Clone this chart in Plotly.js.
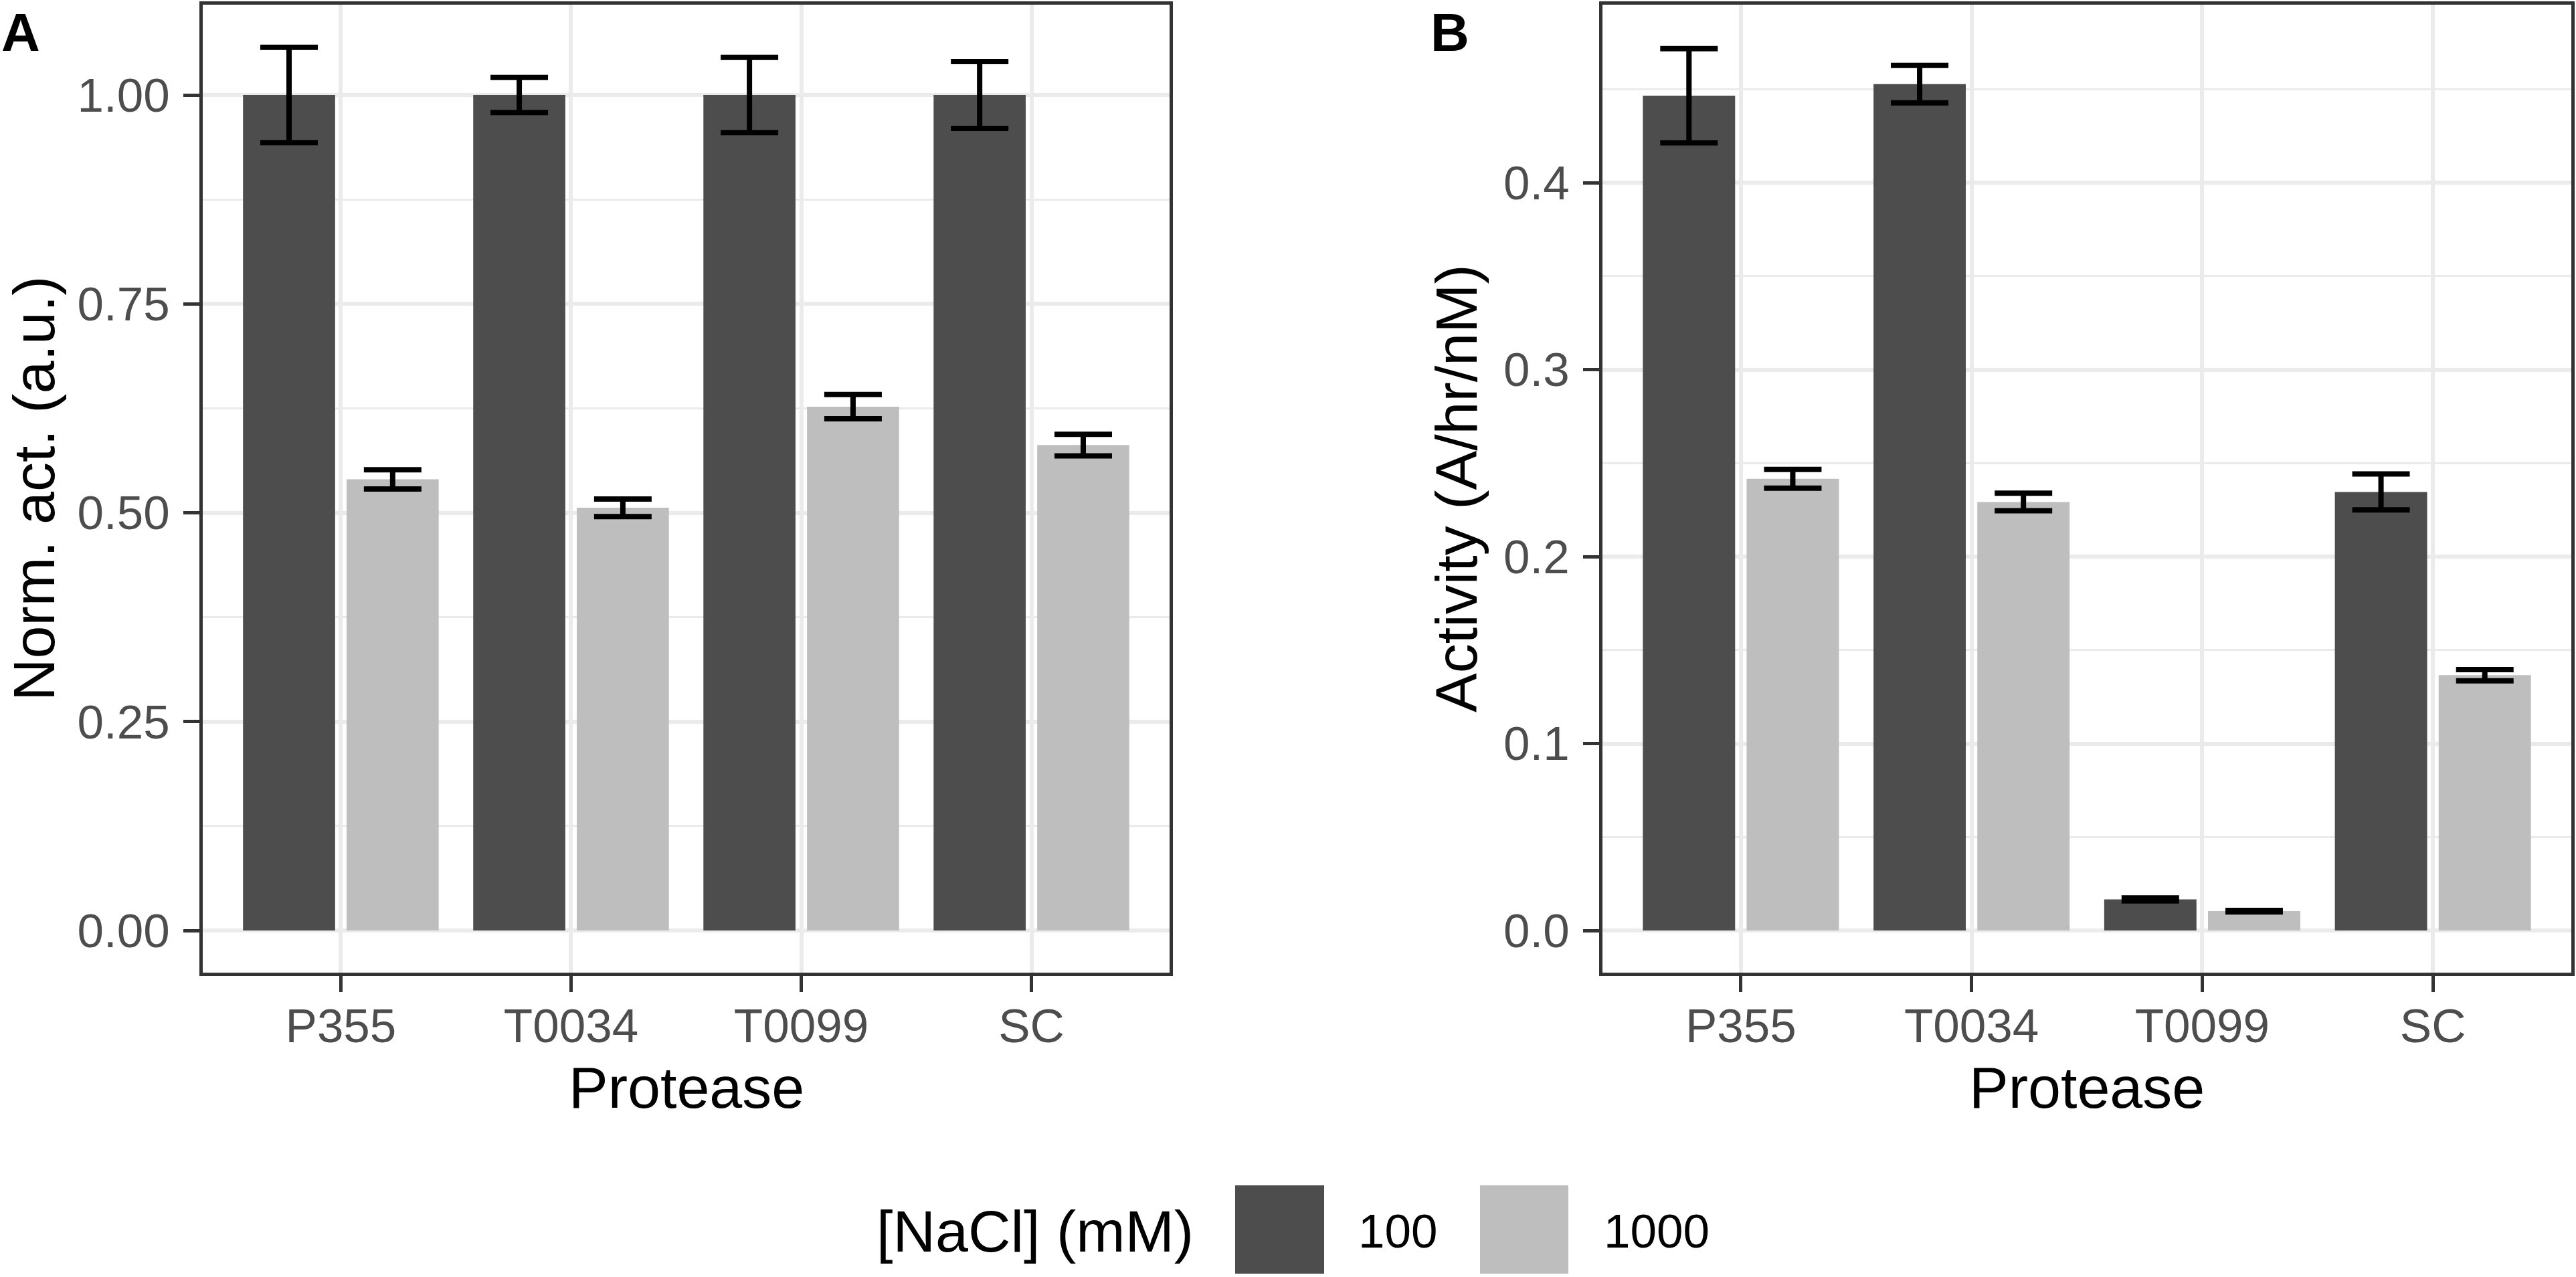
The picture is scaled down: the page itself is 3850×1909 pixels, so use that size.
<!DOCTYPE html>
<html>
<head>
<meta charset="utf-8">
<script src="https://cdn.plot.ly/plotly-3.0.1.min.js"></script>
<style>
  body { margin: 0; background: #ffffff; }
  #chart { width: 3850px; height: 1909px; }
</style>
</head>
<body>
<div id="chart"></div>
<script>
// Protease activity at two NaCl concentrations
var proteases = ['P355', 'T0034', 'T0099', 'SC'];
var naclLevels = ['100', '1000'];

// panel A: normalised activity
var normAct100 = [1.000, 1.000, 1.000, 1.000];
var normAct100Err = [0.057, 0.021, 0.045, 0.040];
var normAct1000 = [0.540, 0.506, 0.627, 0.581];
var normAct1000Err = [0.0115, 0.0105, 0.0145, 0.013];

// panel B: activity (A/hr/nM)
var activity100 = [0.4465, 0.4527, 0.0167, 0.2346];
var activity100Err = [0.0252, 0.0100, 0.0008, 0.0096];
var activity1000 = [0.2416, 0.2292, 0.0104, 0.1366];
var activity1000Err = [0.0050, 0.0047, 0.0004, 0.0030];

var fills = ['#4D4D4D', '#BEBEBE'];

var W = 3850, H = 1909;
var FONT = 'Liberation Sans, Arial, Helvetica, sans-serif';

function px(x) { return x / W; }
function py(y) { return 1 - y / H; }

function barTrace(vals, errs, i, xa, ya) {
  return {
    type: 'bar',
    x: proteases,
    y: vals,
    name: naclLevels[i],
    xaxis: xa,
    yaxis: ya,
    marker: { color: fills[i], line: { width: 0 } },
    error_y: {
      type: 'data',
      array: errs,
      visible: true,
      color: '#000000',
      thickness: 8,
      width: 43
    },
    showlegend: false,
    hoverinfo: 'x+y'
  };
}

var data = [
  barTrace(normAct100, normAct100Err, 0, 'x', 'y'),
  barTrace(normAct1000, normAct1000Err, 1, 'x', 'y'),
  barTrace(activity100, activity100Err, 0, 'x2', 'y2'),
  barTrace(activity1000, activity1000Err, 1, 'x2', 'y2')
];

function xAxis(domain, anchor) {
  return {
    domain: domain,
    anchor: anchor,
    type: 'category',
    categoryorder: 'array',
    categoryarray: proteases,
    range: [-0.6, 3.6],
    showline: true,
    mirror: true,
    linecolor: '#333333',
    linewidth: 5,
    ticks: 'outside',
    ticklen: 24,
    tickwidth: 5,
    tickcolor: '#333333',
    tickfont: { family: FONT, size: 71, color: '#4D4D4D' },
    ticklabelstandoff: -10,
    showgrid: true,
    gridcolor: '#EBEBEB',
    gridwidth: 6,
    zeroline: false,
    automargin: false,
    fixedrange: true
  };
}

function yAxis(domain, anchor, range, dtick, fmt) {
  return {
    domain: domain,
    anchor: anchor,
    range: range,
    tick0: 0,
    dtick: dtick,
    tickformat: fmt,
    showline: true,
    mirror: true,
    linecolor: '#333333',
    linewidth: 5,
    ticks: 'outside',
    ticklen: 24,
    tickwidth: 5,
    tickcolor: '#333333',
    tickfont: { family: FONT, size: 71, color: '#4D4D4D' },
    ticklabelstandoff: 6,
    showgrid: true,
    gridcolor: '#EBEBEB',
    gridwidth: 6,
    minor: {
      tick0: dtick / 2,
      dtick: dtick,
      showgrid: true,
      gridcolor: '#EBEBEB',
      gridwidth: 3,
      ticks: ''
    },
    zeroline: false,
    automargin: false,
    fixedrange: true
  };
}

var yDom = [py(1454), py(7)];

var annotations = [
  { text: '<b>A</b>', x: px(0), y: py(2), xanchor: 'left', yanchor: 'top', font: { size: 80 } },
  { text: '<b>B</b>', x: px(2136), y: py(2), xanchor: 'left', yanchor: 'top', font: { size: 80 } },
  { text: 'Protease', x: px((303 + 1748) / 2), y: py(1625), xanchor: 'center', yanchor: 'middle', font: { size: 88 } },
  { text: 'Protease', x: px((2395 + 3843) / 2), y: py(1625), xanchor: 'center', yanchor: 'middle', font: { size: 88 } },
  { text: 'Norm. act. (a.u.)', x: px(50), y: py(730), textangle: -90, xanchor: 'center', yanchor: 'middle', font: { size: 88 } },
  { text: 'Activity (A/hr/nM)', x: px(2176), y: py(730), textangle: -90, xanchor: 'center', yanchor: 'middle', font: { size: 88 } },
  // legend
  { text: '[NaCl] (mM)', x: px(1308), y: py(1840), xanchor: 'left', yanchor: 'middle', font: { size: 88 } },
  { text: naclLevels[0], x: px(2028), y: py(1840), xanchor: 'left', yanchor: 'middle', font: { size: 71 } },
  { text: naclLevels[1], x: px(2395), y: py(1840), xanchor: 'left', yanchor: 'middle', font: { size: 71 } }
];
annotations.forEach(function (a) {
  a.xref = 'paper';
  a.yref = 'paper';
  a.showarrow = false;
  a.font.family = FONT;
  a.font.color = '#000000';
});

// legend keys
var shapes = [
  { x0: 1846, x1: 1979 },
  { x0: 2212, x1: 2344 }
].map(function (k, i) {
  return {
    type: 'rect',
    xref: 'paper',
    yref: 'paper',
    x0: px(k.x0),
    x1: px(k.x1),
    y0: py(1904),
    y1: py(1772),
    fillcolor: fills[i],
    line: { width: 0 }
  };
});

var layout = {
  width: W,
  height: H,
  margin: { l: 0, r: 0, t: 0, b: 0 },
  paper_bgcolor: '#ffffff',
  plot_bgcolor: '#ffffff',
  font: { family: FONT },
  barmode: 'group',
  bargap: 0.1,
  bargroupgap: 0.111,
  showlegend: false,
  xaxis: xAxis([px(303), px(1748)], 'y'),
  yaxis: yAxis(yDom, 'x', [-0.0504, 1.1081], 0.25, '.2f'),
  xaxis2: xAxis([px(2395), px(3843)], 'y2'),
  yaxis2: yAxis(yDom, 'x2', [-0.0225, 0.4952], 0.1, '.1f'),
  annotations: annotations,
  shapes: shapes
};

Plotly.newPlot('chart', data, layout, { displayModeBar: false, staticPlot: true });
</script>
</body>
</html>
